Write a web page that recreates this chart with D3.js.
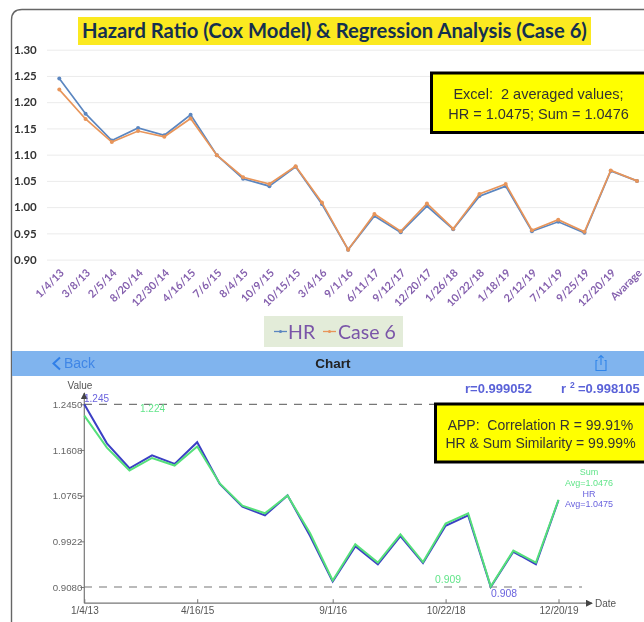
<!DOCTYPE html>
<html><head><meta charset="utf-8">
<script src="https://cdn.jsdelivr.net/npm/d3@7"></script>
<style>
html,body{margin:0;padding:0;background:#fff;overflow:hidden}
svg{display:block;font-family:"Liberation Sans",sans-serif;filter:blur(0.6px)}
</style></head><body>
<div id="chart"></div>
<script>
const excelDates=["1/4/13","3/8/13","2/5/14","8/20/14","12/30/14","4/16/15","7/6/15","8/4/15","10/9/15","10/15/15","3/4/16","9/1/16","6/11/17","9/12/17","12/20/17","1/26/18","10/22/18","1/18/19","2/12/19","7/11/19","9/25/19","12/20/19","Avarage"];
const excelHR=[1.245,1.178,1.127,1.151,1.137,1.176,1.099,1.054,1.040,1.077,1.006,0.919,0.983,0.952,1.002,0.958,1.021,1.040,0.954,0.972,0.951,1.069,1.05];
const excelCase6=[1.224,1.168,1.124,1.145,1.134,1.169,1.099,1.057,1.044,1.078,1.009,0.919,0.987,0.954,1.007,0.959,1.025,1.044,0.956,0.976,0.953,1.070,1.05];
const excelTicks=[0.90,0.95,1.00,1.05,1.10,1.15,1.20,1.25,1.30];

const appHR=[1.245,1.173,1.127,1.151,1.135,1.175,1.098,1.056,1.040,1.077,1.002,0.918,0.983,0.950,1.002,0.952,1.021,1.040,0.908,0.973,0.950,1.068];
const appSum=[1.224,1.165,1.123,1.146,1.132,1.167,1.099,1.058,1.044,1.077,1.007,0.920,0.987,0.953,1.005,0.954,1.025,1.044,0.909,0.975,0.953,1.069];
const appTicks=[1.2450,1.1608,1.0765,0.9922,0.9080];
const appDateTicks=["1/4/13","4/16/15","9/1/16","10/22/18","12/20/19"];
const appTickIndex=[0,5,11,16,21];

const svg=d3.select("#chart").append("svg").attr("width",644).attr("height",622);
svg.append("defs").append("marker").attr("id","arr").attr("viewBox","0 0 8 8").attr("refX",7).attr("refY",4)
  .attr("markerWidth",7).attr("markerHeight",7).attr("markerUnits","userSpaceOnUse").attr("orient","auto")
  .append("path").attr("d","M0,0L8,4L0,8Z").attr("fill","#444");

// frame
svg.append("path").attr("d","M11.5,622V20Q11.5,9.5 22,9.5H644").attr("fill","none").attr("stroke","#666").attr("stroke-width",1.4);

// title
svg.append("rect").attr("x",78).attr("y",17).attr("width",513).attr("height",28).attr("fill","#fbe920");
svg.append("text").attr("x",334.5).attr("y",38).attr("text-anchor","middle").attr("font-family","Lato,sans-serif").attr("font-size",20.2).attr("font-weight",700).attr("fill","#14304f")
  .text("Hazard Ratio (Cox Model) & Regression Analysis (Case 6)");

// Excel chart
const x1=d3.scalePoint().domain(excelDates).range([59.3,637]);
const y1=d3.scaleLinear().domain([0.90,1.30]).range([259.6,49.7]);
const gy=svg.append("g").attr("transform","translate(47,0)")
  .call(d3.axisLeft(y1).tickValues(excelTicks).tickFormat(d3.format(".2f")).tickSize(-597).tickPadding(12));
gy.select(".domain").remove();
gy.selectAll("line").attr("stroke","#ebebeb").attr("stroke-width",1);
gy.selectAll("text").attr("font-size",11.5).attr("font-weight",700).attr("font-family","Lato,sans-serif").attr("fill","#333").attr("text-anchor","start").attr("x",-33);

const gx=svg.append("g").attr("transform","translate(0,259.6)")
  .call(d3.axisBottom(x1).tickSize(0).tickPadding(0));
gx.select(".domain").remove();
gx.selectAll("text").attr("font-size",10.8).attr("font-weight",700).attr("font-family","Lato,sans-serif").attr("fill","#8560ae")
  .attr("text-anchor","end").attr("dy",0).attr("y",0)
  .attr("transform","translate(5,14) rotate(-45)");

const line1=d3.line().x((d,i)=>x1(excelDates[i])).y(d=>y1(d));
[[excelHR,"#5b86c0"],[excelCase6,"#e8955a"]].forEach(([vals,c])=>{
  svg.append("path").datum(vals).attr("d",line1).attr("fill","none").attr("stroke",c).attr("stroke-width",1.7);
  svg.append("g").selectAll("circle").data(vals).join("circle")
    .attr("cx",(d,i)=>x1(excelDates[i])).attr("cy",d=>y1(d)).attr("r",2).attr("fill",c);
});

// Excel callout
svg.append("rect").attr("x",431.5).attr("y",73).attr("width",216).attr("height",59.5).attr("fill","#ffff00").attr("stroke","#000").attr("stroke-width",3);
svg.append("g").attr("font-size",14.5).attr("fill","#333").attr("text-anchor","middle").selectAll("text")
  .data(["Excel:  2 averaged values;","HR = 1.0475; Sum = 1.0476"]).join("text")
  .attr("x",538.5).attr("y",(d,i)=>99+i*19.5).style("white-space","pre").text(d=>d);

// legend
svg.append("rect").attr("x",264).attr("y",316).attr("width",139).attr("height",31).attr("fill","#e3ecd9");
const legend=[["HR","#5b86c0",274,288],["Case 6","#e8955a",323,338]];
legend.forEach(([t,c,a,tx])=>{
  svg.append("line").attr("x1",a).attr("x2",a+13).attr("y1",331.5).attr("y2",331.5).attr("stroke",c).attr("stroke-width",1.3);
  svg.append("circle").attr("cx",a+6.5).attr("cy",331.5).attr("r",1.5).attr("fill",c);
  svg.append("text").attr("x",tx).attr("y",338.5).attr("font-size",19.5).attr("font-family","Lato,sans-serif").attr("fill","#7a55a8").text(t);
});

// app nav bar
svg.append("rect").attr("x",12).attr("y",351).attr("width",632).attr("height",25).attr("fill","#80b4ee");
svg.append("path").attr("d","M60,357.5L53.5,363.5L60,369.5").attr("fill","none").attr("stroke","#2f7fe8").attr("stroke-width",2);
svg.append("text").attr("x",64).attr("y",368).attr("font-size",14).attr("fill","#3f86e6").text("Back");
svg.append("text").attr("x",333).attr("y",368).attr("text-anchor","middle").attr("font-size",13.5).attr("font-weight",700).attr("fill","#222").text("Chart");
svg.append("path").attr("d","M597.5,360.5H596V370.5H606V360.5H604.5M601,365V355.5M598.5,358L601,355.5L603.5,358").attr("fill","none").attr("stroke","#3085ea").attr("stroke-width",1.1);

// r labels
svg.append("g").attr("font-size",13).attr("font-weight",700).attr("fill","#5a62d8").call(g=>{
  g.append("text").attr("x",465).attr("y",393).text("r=0.999052");
  g.append("text").attr("x",561).attr("y",393).text("r");
  g.append("text").attr("x",570).attr("y",388).attr("font-size",8.5).text("2");
  g.append("text").attr("x",578).attr("y",393).text("=0.998105");
});

// App chart
const idx=d3.range(appHR.length);
const x2=d3.scaleLinear().domain([0,21]).range([84.3,558.5]);
const y2=d3.scaleLinear().domain([0.908,1.245]).range([587,404.3]);
const axisBottomY=603.2;

svg.append("g").attr("stroke","#777").attr("stroke-width",1.2).attr("stroke-dasharray","8 7").selectAll("line")
  .data([1.245,0.908]).join("line").attr("x1",84).attr("x2",582).attr("y1",d=>y2(d)).attr("y2",d=>y2(d));

const ga=svg.append("g").attr("transform","translate(84.3,0)")
  .call(d3.axisLeft(y2).tickValues(appTicks).tickFormat(d3.format(".4f")).tickSize(4).tickPadding(0));
ga.select(".domain").remove();
ga.selectAll("line").attr("stroke","#777");
ga.selectAll("text").attr("font-size",9.7).attr("font-family","'Liberation Sans',sans-serif").attr("fill","#666").attr("x",-2);

svg.append("line").attr("x1",84.3).attr("x2",84.3).attr("y1",axisBottomY).attr("y2",393).attr("stroke","#777").attr("stroke-width",1.2).attr("marker-end","url(#arr)");
svg.append("line").attr("x1",84.3).attr("x2",592).attr("y1",axisBottomY).attr("y2",axisBottomY).attr("stroke","#777").attr("stroke-width",1.2).attr("marker-end","url(#arr)");

svg.append("text").attr("x",80).attr("y",389).attr("text-anchor","middle").attr("font-size",10).attr("fill","#555").text("Value");
svg.append("text").attr("x",595).attr("y",607).attr("font-size",10).attr("fill","#555").text("Date");

const gb=svg.append("g").attr("transform",`translate(0,${axisBottomY})`)
  .call(d3.axisTop(x2).tickValues(appTickIndex).tickFormat(d=>appDateTicks[appTickIndex.indexOf(d)]).tickSize(4));
gb.select(".domain").remove();
gb.selectAll("line").attr("stroke","#777");
gb.selectAll("text").attr("font-size",10).attr("font-family","'Liberation Sans',sans-serif").attr("fill","#555").attr("y",11);

const line2=d3.line().x((d,i)=>x2(idx[i])).y(d=>y2(d));
svg.append("path").datum(appHR).attr("d",line2).attr("fill","none").attr("stroke","#3b3fc4").attr("stroke-width",2);
svg.append("path").datum(appSum).attr("d",line2).attr("fill","none").attr("stroke","#55e07a").attr("stroke-width",2);

const appLabels=[
 ["1.245",84,402,"#6a63de",10,"start"],
 ["1.224",140,412,"#62e58a",10,"start"],
 ["0.909",435,583,"#62e58a",10.4,"start"],
 ["0.908",491,597,"#6a63de",10.4,"start"],
 ["Sum",589,475,"#62e58a",9,"middle"],
 ["Avg=1.0476",589,486,"#62e58a",9,"middle"],
 ["HR",589,497,"#6a63de",9,"middle"],
 ["Avg=1.0475",589,507,"#6a63de",9,"middle"]];
svg.append("g").selectAll("text").data(appLabels).join("text")
  .attr("x",d=>d[1]).attr("y",d=>d[2]).attr("fill",d=>d[3]).attr("font-size",d=>d[4]).attr("text-anchor",d=>d[5]).text(d=>d[0]);

// App callout
svg.append("rect").attr("x",435.5).attr("y",404).attr("width",212).attr("height",58).attr("fill","#ffff00").attr("stroke","#000").attr("stroke-width",3);
svg.append("g").attr("font-size",14).attr("fill","#333").attr("text-anchor","middle").selectAll("text")
  .data(["APP:  Correlation R = 99.91%","HR & Sum Similarity = 99.99%"]).join("text")
  .attr("x",540.5).attr("y",(d,i)=>430+i*18).style("white-space","pre").text(d=>d);
</script>
</body></html>
